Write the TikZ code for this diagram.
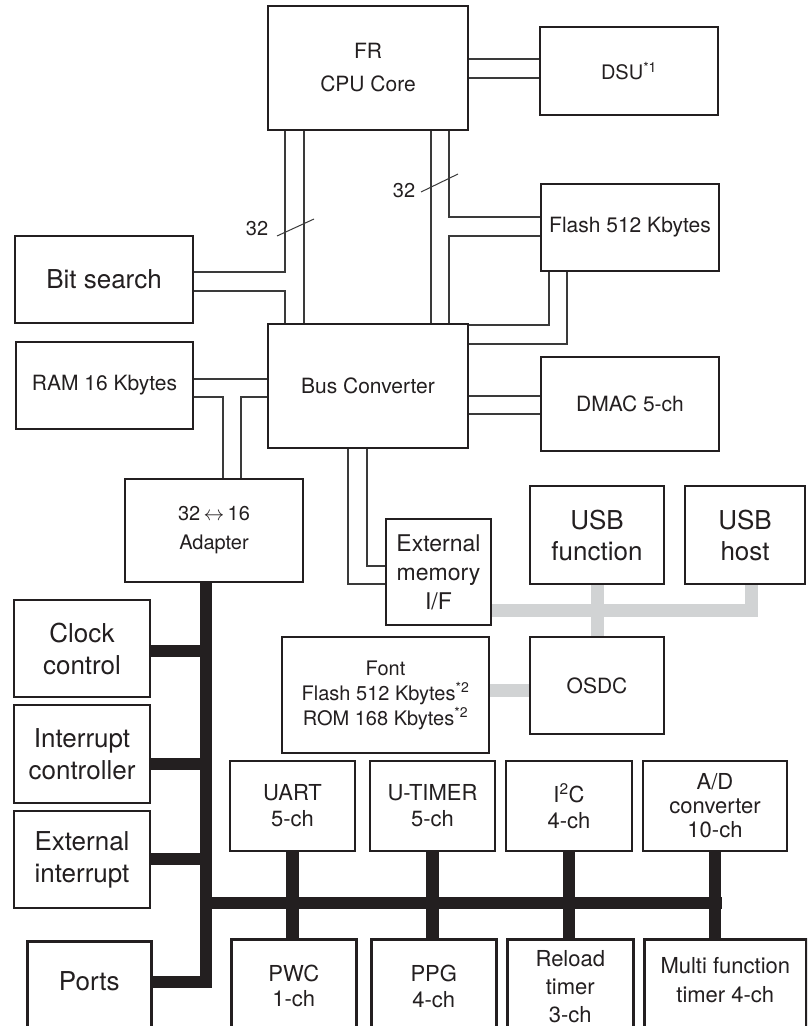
\documentclass[tikz,border=0pt]{standalone}
\usepackage{fontspec}
\setmainfont{TeX Gyre Heros}
\usetikzlibrary{backgrounds}
\definecolor{ink}{HTML}{231F20}
\definecolor{wirec}{HTML}{3A3A3A}
\definecolor{graybus}{HTML}{D1D3D4}
\newcommand\fs[2]{\fontsize{#1}{#2}\selectfont}
% centred box: name, x1, y1, x2, y2, font, text
\newcommand\blk[7]{\node[box, font=#6, minimum width={(#4)-(#2)}, minimum height={(#5)-(#3)}] (#1) at ({((#2)+(#4))/2},{((#3)+(#5))/2}) {#7};}
% top-aligned box (runs past the lower edge): name, x1, y1, x2, y2, font, first baseline, text
\newcommand\tblk[8]{\node[box, font=#6, anchor=north west] (#1) at (#2,#3) {\parbox[c][\dimexpr #5pt-#3pt\relax][t]{\dimexpr #4pt-#2pt\relax}{\centering\rule{0pt}{#7pt}#8}};}
\begin{document}
\begin{tikzpicture}[x=1pt,y=-1pt,
  box/.style={draw=ink, line width=2.6pt, fill=white, inner sep=0pt, align=center, text=ink},
  wire/.style={draw=wirec, line width=1.3pt},
  bus/.style={draw=ink, line width=12.5pt},
  gbus/.style={draw=graybus, line width=13pt},
  lbl/.style={font=\fs{20}{24}, text=ink, inner sep=0pt}]
\path[use as bounding box, clip] (0,0) rectangle (807,1026);

\blk{cpu}{268}{6}{468}{130}{\fs{21}{33}}{FR\\CPU Core}
\blk{dsu}{540}{27}{718}{115}{\fs{20}{24}}{DSU\textsuperscript{*1}}
\blk{flash}{541}{184}{719}{271}{\fs{21}{25}}{Flash 512 Kbytes}
\blk{bits}{15}{236}{193}{323}{\fs{26}{31}}{Bit search}
\blk{ram}{16}{342}{193}{429}{\fs{21}{25}}{RAM 16 Kbytes}
\blk{busc}{268}{324}{468}{448}{\fs{21}{25}}{Bus Converter}
\blk{dmac}{541}{357}{719}{451}{\fs{21}{25}}{DMAC 5-ch}
\blk{adapt}{125}{479}{303}{582}{\fs{20}{29}}{32\,$\leftrightarrow$\,16\\Adapter}
\blk{extm}{386}{519}{491}{625}{\fs{23}{29}}{External\\memory\\I/F}
\blk{usbf}{530}{486}{664}{584}{\fs{26}{31}}{USB\\function}
\blk{usbh}{685}{486}{805}{584}{\fs{26}{31}}{USB\\host}
\blk{clk}{14}{600}{150}{697}{\fs{26}{32}}{Clock\\control}
\blk{intc}{14}{705}{150}{803}{\fs{26}{32}}{Interrupt\\controller}
\blk{exti}{14}{811}{150}{908}{\fs{26}{32}}{External\\interrupt}
\blk{font}{282}{637}{489}{753}{\fs{20}{25}}{Font\\Flash 512 Kbytes\textsuperscript{*2}\\ROM 168 Kbytes\textsuperscript{*2}}
\blk{osdc}{530}{637}{664}{734}{\fs{21}{25}}{OSDC}
\blk{uart}{230}{761}{355}{851}{\fs{22}{26}}{UART\\5-ch}
\blk{utim}{370}{761}{495}{851}{\fs{22}{26}}{U-TIMER\\5-ch}
\blk{iic}{506}{761}{632}{851}{\fs{22}{26}}{I\textsuperscript{2}C\\4-ch}
\blk{ad}{643}{761}{787}{851}{\fs{22}{24}}{A/D\\converter\\10-ch}
\tblk{ports}{26}{940}{150}{1045}{\fs{26}{31}}{49}{Ports}
\tblk{pwc}{230}{938}{355}{1045}{\fs{22}{25}}{42}{PWC\\1-ch}
\tblk{ppg}{370}{938}{495}{1045}{\fs{22}{26}}{42}{PPG\\4-ch}
\tblk{reload}{506}{938}{632}{1045}{\fs{22}{28}}{27}{Reload\\timer\\3-ch}
\tblk{multi}{643}{938}{805}{1045}{\fs{22}{29}}{34}{Multi function\\timer 4-ch}

\node[lbl] (n32a) at (257,229) {32};
\node[lbl] (n32b) at (404,191) {32};
\coordinate (s1a) at (277,236); \coordinate (s1b) at (314,219);
\coordinate (s2a) at (421,192); \coordinate (s2b) at (458,174);

\begin{pgfonlayer}{background}
% thin double buses
\draw[wire] (cpu.east |- 0,59) -- (dsu.west |- 0,59);
\draw[wire] (cpu.east |- 0,78) -- (dsu.west |- 0,78);
\draw[wire] (cpu.south -| 304,0) -- (busc.north -| 304,0);
\draw[wire] (cpu.south -| 285,0) -- (285,272) -- (bits.east |- 0,272);
\draw[wire] (bits.east |- 0,291) -- (285,291) -- (busc.north -| 285,0);
\draw[wire] (cpu.south -| 431,0) -- (busc.north -| 431,0);
\draw[wire] (cpu.south -| 449,0) -- (449,217) -- (flash.west |- 0,217);
\draw[wire] (flash.west |- 0,236) -- (449,236) -- (busc.north -| 449,0);
\draw[wire] (flash.south -| 549,0) -- (549,325) -- (busc.east |- 0,325);
\draw[wire] (flash.south -| 567,0) -- (567,344) -- (busc.east |- 0,344);
\draw[wire] (busc.east |- 0,396) -- (dmac.west |- 0,396);
\draw[wire] (busc.east |- 0,414) -- (dmac.west |- 0,414);
\draw[wire] (ram.east |- 0,379) -- (busc.west |- 0,379);
\draw[wire] (ram.east |- 0,397) -- (223,397) -- (adapt.north -| 223,0);
\draw[wire] (busc.west |- 0,397) -- (241,397) -- (adapt.north -| 241,0);
\draw[wire] (busc.south -| 348,0) -- (348,584) -- (extm.west |- 0,584);
\draw[wire] (busc.south -| 367,0) -- (367,566) -- (extm.west |- 0,566);
\draw[wire, line width=1pt] (s1a) -- (s1b);
\draw[wire, line width=1pt] (s2a) -- (s2b);
% black peripheral bus
\draw[bus] (ports.east |- 0,982) -- (206,982) -- (adapt.south -| 206,0);
\draw[bus] (clk.east |- 0,651) -- (206,651);
\draw[bus] (intc.east |- 0,764) -- (206,764);
\draw[bus] (exti.east |- 0,859) -- (206,859);
\draw[bus] (206,903) -- (722.25,903);
\draw[bus] (uart.south) -- (pwc.north -| uart.south);
\draw[bus] (utim.south) -- (ppg.north -| utim.south);
\draw[bus] (iic.south) -- (reload.north -| iic.south);
\draw[bus] (ad.south) -- (multi.north -| ad.south);
% grey bus
\draw[gbus] (extm.east |- 0,610) -- (751,610) -- (usbh.south -| 751,0);
\draw[gbus] (usbf.south) -- (osdc.north);
\draw[gbus] (font.east |- 0,690.5) -- (osdc.west |- 0,690.5);
\end{pgfonlayer}
\end{tikzpicture}
\end{document}
